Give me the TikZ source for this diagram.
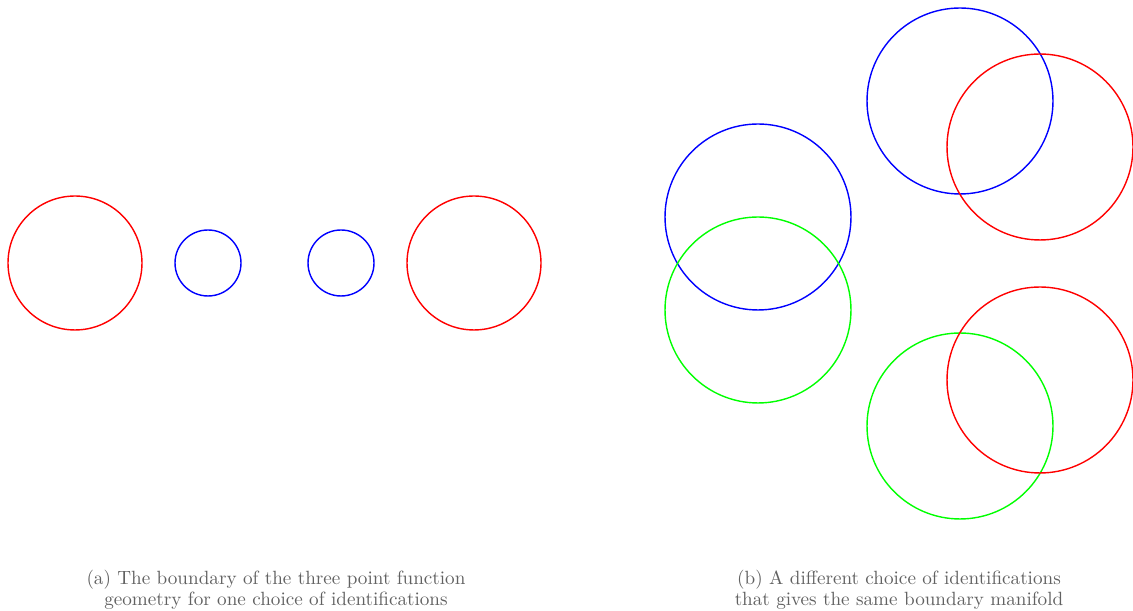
\documentclass[tikz,border=0pt]{standalone}
\usetikzlibrary{calc}
\tikzset{
  ring/.style={
    shape = circle,
    draw,
    line width = 0.8pt,
    inner sep = 0pt
  },
  bigring/.style={
    ring,
    minimum size = 2.68cm
  },
  smallring/.style={
    ring,
    minimum size = 1.32cm
  },
  wide ring/.style={
    ring,
    minimum size = 3.72cm
  },
  caption/.style={
    align = center,
    text = black!62,
    font = \fontsize{10.9}{11.95}\selectfont
  }
}

\begin{document}
\begin{tikzpicture}[x=0.02cm,y=0.02cm]
  \useasboundingbox (0,0) rectangle (1133,611);
  % (a) one choice of identifications
  \node[bigring, red] (ra) at (75,348) {};
  \node[smallring, blue] (ba) at (208,348) {};
  \node[smallring, blue] (bb) at (341,348) {};
  \node[bigring, red] (rb) at (474,348) {};
  % (b) another choice
  \node[wide ring, blue] (bc) at (758,394) {};
  \node[wide ring, blue] (bd) at (960,510) {};
  \node[wide ring, green] (gc) at (758,301) {};
  \node[wide ring, red] (rc) at (1040,464) {};
  \node[wide ring, green] (gd) at (960,185) {};
  \node[wide ring, red] (rd) at (1040,231) {};
  % captions
  \node[caption] (capa) at (276,21) {(a) The boundary of the three point function\\geometry for one choice of identifications};
  \node[caption] (capb) at (899,21) {(b) A different choice of identifications\\that gives the same boundary manifold};
\end{tikzpicture}
\end{document}
